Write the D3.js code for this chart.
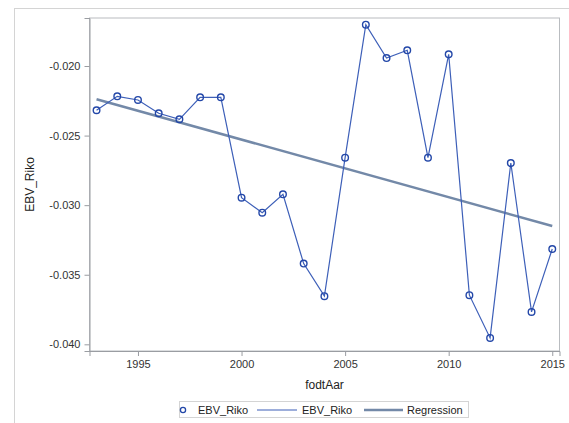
<!DOCTYPE html>
<html lang="en">
<head>
<meta charset="utf-8">
<title>EBV_Riko</title>
<script src="https://d3js.org/d3.v7.min.js"></script>
<style>
  body { margin: 0; background: #fff; }
  text { font-family: "Liberation Sans", Arial, sans-serif; }
</style>
</head>
<body>
<div id="chart"></div>
<script>
// data
var years = [1993, 1994, 1995, 1996, 1997, 1998, 1999, 2000, 2001, 2002, 2003, 2004,
             2005, 2006, 2007, 2008, 2009, 2010, 2011, 2012, 2013, 2014, 2015];
var ebv = [-0.02318, -0.02218, -0.02244, -0.0234, -0.02383, -0.02225, -0.02225, -0.02946,
           -0.03054, -0.02922, -0.0342, -0.03654, -0.02659, -0.01703, -0.01943, -0.01887,
           -0.02659, -0.01916, -0.03647, -0.03954, -0.02697, -0.03767, -0.03315];
var regYears = [1993, 2015];
var regValues = [-0.02239, -0.0315];
var xTicks = [1995, 2000, 2005, 2010, 2015];
var yTicks = [-0.020, -0.025, -0.030, -0.035, -0.040];

var W = 569, H = 423;
var margin = {top: 18, right: 9.5, bottom: 72, left: 89.5},
    width = W - margin.left - margin.right,
    height = H - margin.top - margin.bottom;

var svg = d3.select("#chart").append("svg")
    .attr("width", W)
    .attr("height", H);

// outer graph border
svg.append("rect")
    .attr("x", 14.5).attr("y", 8.5)
    .attr("width", W).attr("height", H)
    .attr("fill", "none")
    .attr("stroke", "#d4d4d4");

var g = svg.append("g")
    .attr("transform", "translate(" + margin.left + "," + margin.top + ")");

var x = d3.scaleLinear().domain([1992.66, 2015.35]).range([0, width]);
var y = d3.scaleLinear().domain([-0.04048, -0.01655]).range([height, 0]);

// frame
g.append("rect")
    .attr("width", width).attr("height", height)
    .attr("fill", "none")
    .attr("stroke", "#b9bcc0");

// axes
var xAxis = g.append("g")
    .attr("transform", "translate(0," + height + ")")
    .call(d3.axisBottom(x).tickValues(xTicks).tickSize(5).tickPadding(4).tickFormat(d3.format("d")));
var yAxis = g.append("g")
    .call(d3.axisLeft(y).tickValues(yTicks).tickSize(5).tickPadding(4).tickFormat(d3.format(".3f")));

[xAxis, yAxis].forEach(function(a) {
  a.select(".domain").attr("stroke", "#9a9da2");
  a.selectAll(".tick line").attr("stroke", "#9a9da2");
  a.selectAll(".tick text")
      .attr("fill", "#333")
      .style("font-size", "11px")
      .style("font-family", "Liberation Sans, Arial, sans-serif");
});
yAxis.selectAll(".tick text").text(function(d) { return "-" + d3.format(".3f")(-d); });

// axis labels
svg.append("text")
    .attr("x", margin.left + width / 2)
    .attr("y", 389)
    .attr("text-anchor", "middle")
    .attr("fill", "#222")
    .style("font-size", "12px")
    .text("fodtAar");

svg.append("text")
    .attr("transform", "translate(34," + (margin.top + height / 2) + ") rotate(-90)")
    .attr("text-anchor", "middle")
    .attr("fill", "#222")
    .style("font-size", "12px")
    .text("EBV_Riko");

// regression line
var regData = regYears.map(function(d, i) { return {x: d, y: regValues[i]}; });
g.append("path")
    .datum(regData)
    .attr("fill", "none")
    .attr("stroke", "#7389a8")
    .attr("stroke-width", 2.5)
    .attr("d", d3.line().x(function(d) { return x(d.x); }).y(function(d) { return y(d.y); }));

// series line
var data = years.map(function(d, i) { return {x: d, y: ebv[i]}; });
g.append("path")
    .datum(data)
    .attr("fill", "none")
    .attr("stroke", "#3d5fb8")
    .attr("stroke-width", 1.2)
    .attr("d", d3.line().x(function(d) { return x(d.x); }).y(function(d) { return y(d.y); }));

// markers
g.selectAll("circle.pt")
    .data(data)
    .enter().append("circle")
    .attr("class", "pt")
    .attr("cx", function(d) { return x(d.x); })
    .attr("cy", function(d) { return y(d.y); })
    .attr("r", 3.3)
    .attr("fill", "none")
    .attr("stroke", "#2347a8")
    .attr("stroke-width", 1.4);

// legend
var leg = svg.append("g");
leg.append("rect")
    .attr("x", 179.5).attr("y", 401.5)
    .attr("width", 289).attr("height", 16)
    .attr("fill", "#fff")
    .attr("stroke", "#d4d4d4");
leg.append("circle")
    .attr("cx", 183).attr("cy", 410)
    .attr("r", 2.6)
    .attr("fill", "none")
    .attr("stroke", "#2347a8")
    .attr("stroke-width", 1.3);
leg.append("line")
    .attr("x1", 257).attr("x2", 297).attr("y1", 410).attr("y2", 410)
    .attr("stroke", "#3d5fb8").attr("stroke-width", 1.2);
leg.append("line")
    .attr("x1", 364).attr("x2", 403).attr("y1", 410).attr("y2", 410)
    .attr("stroke", "#7389a8").attr("stroke-width", 2.5);
var legLabels = [{x: 198, t: "EBV_Riko"}, {x: 302, t: "EBV_Riko"}, {x: 407, t: "Regression"}];
leg.selectAll("text.lg")
    .data(legLabels)
    .enter().append("text")
    .attr("class", "lg")
    .attr("x", function(d) { return d.x; })
    .attr("y", 414)
    .attr("fill", "#222")
    .style("font-size", "11px")
    .text(function(d) { return d.t; });
</script>
</body>
</html>
